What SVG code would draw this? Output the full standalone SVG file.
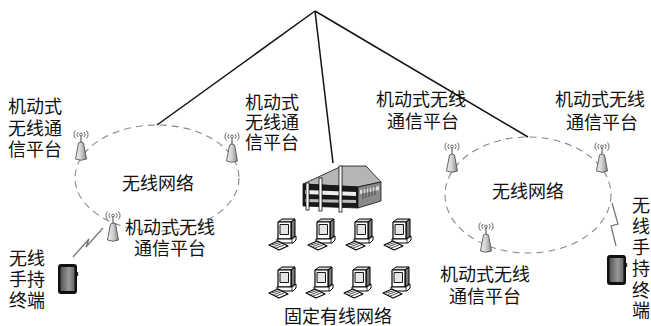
<svg xmlns="http://www.w3.org/2000/svg" width="651" height="326" viewBox="0 0 651 326">
  <style>
    .lbl { font-family: "Noto Sans CJK SC", "Noto Sans", sans-serif; font-size: 18px; fill: #111; }
    .mid { text-anchor: middle; }
    .wire { stroke: #111; stroke-width: 1.5; fill: none; }
    .net { stroke: #888; stroke-width: 1.1; fill: none; stroke-dasharray: 7 5; }
    .bolt { stroke: #777; stroke-width: 1.3; fill: none; stroke-linejoin: miter; }
  </style>
  <defs>
    <linearGradient id="coneGrad" x1="0" y1="0" x2="1" y2="0">
      <stop offset="0" stop-color="#f2f2f2"/>
      <stop offset="0.5" stop-color="#d0d0d0"/>
      <stop offset="1" stop-color="#888"/>
    </linearGradient>
    <linearGradient id="screenGrad" x1="0" y1="0" x2="1" y2="0">
      <stop offset="0" stop-color="#555"/>
      <stop offset="0.6" stop-color="#999"/>
      <stop offset="1" stop-color="#666"/>
    </linearGradient>
    <!-- mobile radio platform: cone-shaped tower with radio waves, origin at base centre -->
    <g id="antenna">
      <path d="M-5.5,-1 L-2.5,-17 Q0,-19 2.5,-17 L5.5,-1 Q0,1.5 -5.5,-1 Z" fill="url(#coneGrad)" stroke="#555" stroke-width="0.9"/>
      <line x1="0" y1="-18" x2="0" y2="-24" stroke="#444" stroke-width="1"/>
      <circle cx="0" cy="-25.5" r="1.4" fill="none" stroke="#444" stroke-width="0.8"/>
      <path d="M-3,-28 A3.5,3.5 0 0 0 -3,-23 M-5.5,-29.5 A6,6 0 0 0 -5.5,-21.5 M3,-28 A3.5,3.5 0 0 1 3,-23 M5.5,-29.5 A6,6 0 0 1 5.5,-21.5" fill="none" stroke="#444" stroke-width="0.8"/>
    </g>
    <!-- desktop computer: 3D monitor box plus keyboard, origin at top-left -->
    <g id="pc" stroke="#000" stroke-linejoin="round">
      <polygon points="10,4 14,1 27,1 23,4" fill="#ddd" stroke-width="1"/>
      <polygon points="23,4 27,1 27,18 23,21" fill="#777" stroke-width="1"/>
      <rect x="10" y="4" width="13" height="17" fill="#fff" stroke-width="1.2"/>
      <rect x="12" y="6.5" width="8.5" height="10" fill="#e6e6e6" stroke-width="0.9"/>
      <polygon points="9,21 24,21 28,18 28,22 25,25 9,25" fill="#fff" stroke-width="1"/>
      <line x1="24" y1="21" x2="24" y2="25" stroke-width="0.8"/>
      <polygon points="1,27 10,23 20,28 11,32" fill="#fff" stroke-width="1.1"/>
      <path d="M4,27 L12,24.5 M6,28.5 L14,25.5 M8,30 L16,27" fill="none" stroke-width="0.7"/>
    </g>
    <!-- handheld terminal -->
    <g id="phone">
      <rect x="0" y="0" width="19" height="30" rx="3" fill="#111"/>
      <rect x="2.5" y="3" width="14" height="24" rx="1" fill="url(#screenGrad)"/>
      <rect x="19" y="8" width="1.2" height="4" fill="#333"/>
    </g>
  </defs>

  <!-- connectors from the core node to the three networks, plus radio links -->
  <g id="connectors">
    <line class="wire" x1="315" y1="11" x2="157" y2="125"/>
    <line class="wire" x1="315" y1="11" x2="333" y2="163"/>
    <line class="wire" x1="315" y1="11" x2="528" y2="137"/>
    <path class="bolt" d="M73,257 L89,239 L86,247 L103,228"/>
    <path class="bolt" d="M612,203 L618,224 L611,226 L616,246"/>
  </g>

  <!-- left wireless network -->
  <g id="net-left">
    <ellipse class="net" cx="157" cy="178" rx="82" ry="53"/>
    <text class="lbl mid" x="158" y="190">无线网络</text>
  </g>

  <!-- right wireless network -->
  <g id="net-right">
    <ellipse class="net" cx="528" cy="195" rx="83" ry="58"/>
    <text class="lbl mid" x="528" y="198">无线网络</text>
  </g>

  <g id="platform-1">
    <use href="#antenna" x="81" y="160"/>
    <text class="lbl" x="8" y="113">机动式<tspan x="8" dy="22">无线通</tspan><tspan x="8" dy="21">信平台</tspan></text>
  </g>
  <g id="platform-2">
    <use href="#antenna" x="232" y="162"/>
    <text class="lbl" x="245" y="109">机动式<tspan x="245" dy="20">无线通</tspan><tspan x="245" dy="20">信平台</tspan></text>
  </g>
  <g id="platform-3">
    <use href="#antenna" x="113" y="241"/>
    <text class="lbl mid" x="170" y="234">机动式无线<tspan x="170" dy="21">通信平台</tspan></text>
  </g>
  <g id="platform-4">
    <use href="#antenna" x="452" y="172"/>
    <text class="lbl mid" x="421" y="106">机动式无线<tspan x="423" dy="22">通信平台</tspan></text>
  </g>
  <g id="platform-5">
    <use href="#antenna" x="602" y="172"/>
    <text class="lbl mid" x="600" y="106">机动式无线<tspan x="602" dy="23">通信平台</tspan></text>
  </g>
  <g id="platform-6">
    <use href="#antenna" x="486" y="252"/>
    <text class="lbl mid" x="485" y="281">机动式无线<tspan x="485" dy="22">通信平台</tspan></text>
  </g>

  <g id="handheld-left">
    <use href="#phone" x="58" y="264"/>
    <text class="lbl" x="9" y="265">无线<tspan x="9" dy="21">手持</tspan><tspan x="9" dy="21">终端</tspan></text>
  </g>
  <g id="handheld-right">
    <use href="#phone" x="607" y="255"/>
    <text class="lbl mid" x="641" y="212">无<tspan x="641" dy="21">线</tspan><tspan x="641" dy="21">手</tspan><tspan x="641" dy="21">持</tspan><tspan x="641" dy="22">终</tspan><tspan x="641" dy="20">端</tspan></text>
  </g>

  <!-- fixed wired network: building and workstations -->
  <g id="fixed-network">
    <g id="building" stroke="#111" stroke-width="0.8">
      <polygon points="303,184 342,166 366,166 381,182 358,187" fill="#b5b5b5"/>
      <polygon points="303,184 358,187 358,208 303,206" fill="#1a1a1a"/>
      <polygon points="358,187 381,182 381,201 358,208" fill="#8a8a8a"/>
      <polygon points="305,190 356,192 356,196 305,194" fill="#eee" stroke="none"/>
      <polygon points="305,199 356,200 356,203 305,202" fill="#bbb" stroke="none"/>
      <polygon points="360,190 379,186 379,190 360,194" fill="#ddd" stroke="none"/>
      <path d="M363,189 V199 M366,188 V198 M369,188 V197 M372,187 V196 M375,186 V195" stroke="#333" stroke-width="0.8"/>
      <rect x="306" y="183" width="3" height="27" fill="#fff"/>
      <rect x="319" y="178" width="3" height="33" fill="#fff"/>
      <rect x="339" y="166" width="3" height="46" fill="#fff"/>
    </g>
    <use href="#pc" x="268" y="218"/>
    <use href="#pc" x="307" y="218"/>
    <use href="#pc" x="345" y="218"/>
    <use href="#pc" x="383" y="218"/>
    <use href="#pc" x="268" y="266"/>
    <use href="#pc" x="305" y="266"/>
    <use href="#pc" x="343" y="266"/>
    <use href="#pc" x="382" y="266"/>
    <text class="lbl mid" x="338" y="323">固定有线网络</text>
  </g>
</svg>
